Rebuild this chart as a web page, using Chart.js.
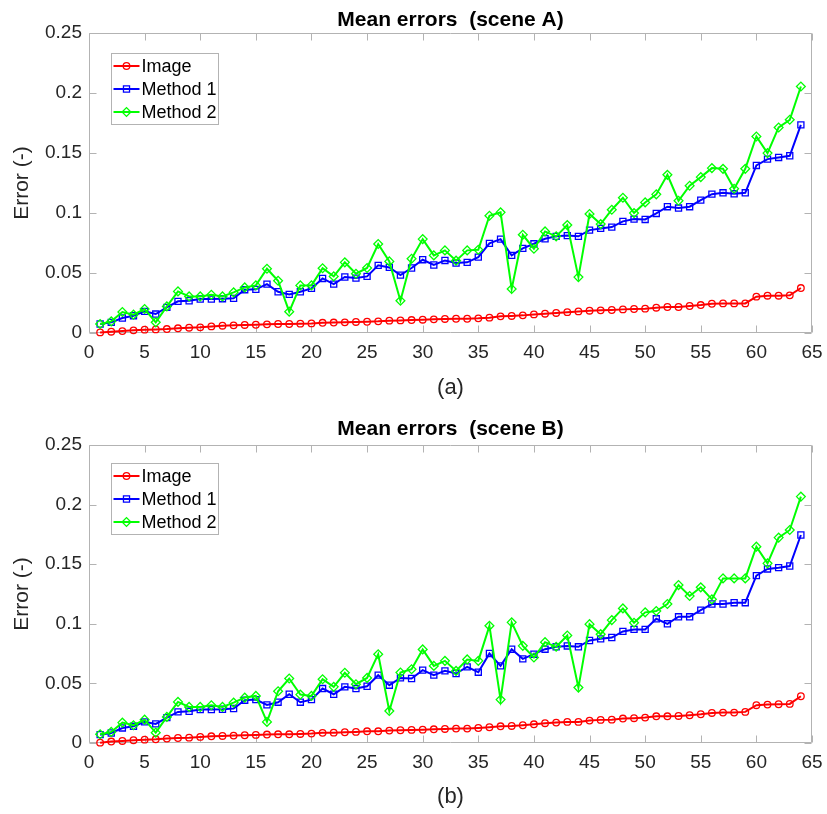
<!DOCTYPE html>
<html>
<head>
<meta charset="utf-8">
<script src="https://cdn.jsdelivr.net/npm/chart.js@4/dist/chart.umd.min.js"></script>
<style>
  html, body { margin: 0; padding: 0; background: #ffffff; }
  #wrap { position: relative; width: 827px; height: 814px; }
  canvas { position: absolute; left: 0; }
</style>
</head>
<body>
<div id="wrap">
  <canvas id="chartA" width="827" height="407" style="top:0px"></canvas>
  <canvas id="chartB" width="827" height="407" style="top:407px"></canvas>
</div>
<script>
// ---- data -------------------------------------------------------------
const pointIndex = [1,2,3,4,5,6,7,8,9,10,11,12,13,14,15,16,17,18,19,20,21,22,23,24,25,26,27,28,29,30,31,32,
  33,34,35,36,37,38,39,40,41,42,43,44,45,46,47,48,49,50,51,52,53,54,55,56,57,58,59,60,61,62,63,64];

const seriesNames = ['Image', 'Method 1', 'Method 2'];
const xTickLabels = ['0','5','10','15','20','25','30','35','40','45','50','55','60','65'];
const yTickLabels = ['0','0.05','0.1','0.15','0.2','0.25'];

const sceneA_image = [0.0005,0.0011,0.0016,0.0022,0.0028,0.0030,0.0033,0.0039,0.0044,0.0047,0.0055,0.0061,0.0064,0.0067,0.0069,0.0072,0.0075,0.0075,0.0078,0.0080,0.0085,
  0.0087,0.0089,0.0092,0.0094,0.0097,0.0103,0.0105,0.0108,0.0111,0.0114,0.0117,0.0119,0.0119,0.0122,0.0128,0.0139,0.0142,0.0147,0.0155,0.0161,0.0167,0.0174,
  0.0180,0.0186,0.0189,0.0192,0.0197,0.0200,0.0203,0.0211,0.0217,0.0217,0.0225,0.0233,0.0244,0.0247,0.0247,0.0247,0.0303,0.0311,0.0311,0.0314,0.0375];
const sceneA_method1 = [0.0075,0.0089,0.0125,0.0144,0.0180,0.0158,0.0214,0.0264,0.0269,0.0283,0.0283,0.0286,0.0289,0.0361,0.0364,0.0408,0.0344,0.0322,0.0344,0.0372,0.0455,
  0.0408,0.0467,0.0458,0.0472,0.0564,0.0547,0.0483,0.0542,0.0611,0.0567,0.0605,0.0583,0.0589,0.0633,0.0747,0.0783,0.0647,0.0706,0.0744,0.0786,0.0806,0.0812,
  0.0806,0.0858,0.0872,0.0883,0.0931,0.0950,0.0947,0.0997,0.1053,0.1042,0.1053,0.1108,0.1158,0.1169,0.1161,0.1169,0.1397,0.1450,0.1464,0.1478,0.1736];
const sceneA_method2 = [0.0075,0.0097,0.0175,0.0153,0.0200,0.0089,0.0222,0.0347,0.0305,0.0305,0.0319,0.0305,0.0339,0.0380,0.0397,0.0536,0.0436,0.0178,0.0397,0.0397,0.0540,
  0.0472,0.0589,0.0494,0.0542,0.0742,0.0597,0.0269,0.0619,0.0783,0.0647,0.0689,0.0603,0.0689,0.0694,0.0978,0.1006,0.0367,0.0819,0.0703,0.0847,0.0806,0.0900,
  0.0466,0.0992,0.0908,0.1028,0.1128,0.1000,0.1089,0.1156,0.1319,0.1103,0.1228,0.1300,0.1375,0.1369,0.1203,0.1369,0.1639,0.1500,0.1714,0.1778,0.2056];

const sceneB_image = [0.0003,0.0012,0.0017,0.0023,0.0028,0.0031,0.0037,0.0042,0.0045,0.0051,0.0056,0.0059,0.0062,0.0065,0.0068,0.0071,0.0073,0.0073,0.0076,0.0079,0.0085,
  0.0087,0.0090,0.0093,0.0098,0.0098,0.0104,0.0107,0.0110,0.0112,0.0115,0.0118,0.0121,0.0121,0.0126,0.0132,0.0140,0.0143,0.0149,0.0157,0.0166,0.0171,0.0177,
  0.0177,0.0188,0.0194,0.0196,0.0205,0.0208,0.0213,0.0224,0.0224,0.0227,0.0233,0.0241,0.0252,0.0255,0.0255,0.0261,0.0317,0.0322,0.0325,0.0328,0.0392];
const sceneB_method1 = [0.0070,0.0084,0.0126,0.0140,0.0177,0.0160,0.0213,0.0261,0.0266,0.0280,0.0280,0.0283,0.0289,0.0359,0.0364,0.0320,0.0342,0.0409,0.0342,0.0364,0.0457,
  0.0409,0.0471,0.0457,0.0476,0.0569,0.0485,0.0546,0.0541,0.0611,0.0569,0.0605,0.0583,0.0639,0.0594,0.0751,0.0647,0.0787,0.0706,0.0745,0.0787,0.0807,0.0814,
  0.0807,0.0860,0.0874,0.0885,0.0936,0.0953,0.0953,0.1042,0.1000,0.1059,0.1059,0.1115,0.1166,0.1166,0.1177,0.1177,0.1404,0.1460,0.1471,0.1485,0.1745];
const sceneB_method2 = [0.0073,0.0093,0.0171,0.0149,0.0196,0.0087,0.0219,0.0345,0.0303,0.0303,0.0317,0.0303,0.0339,0.0381,0.0395,0.0177,0.0434,0.0541,0.0406,0.0395,0.0535,
  0.0471,0.0589,0.0493,0.0546,0.0745,0.0269,0.0591,0.0619,0.0785,0.0647,0.0689,0.0605,0.0701,0.0689,0.0983,0.0364,0.1012,0.0815,0.0717,0.0846,0.0807,0.0902,
  0.0465,0.0997,0.0913,0.1031,0.1129,0.1009,0.1096,0.1107,0.1166,0.1325,0.1233,0.1306,0.1205,0.1381,0.1381,0.1381,0.1647,0.1507,0.1723,0.1787,0.2067];

// ---- styling ----------------------------------------------------------
const FONT = '"Liberation Sans", Arial, Helvetica, sans-serif';
const AXIS_COLOR = '#b3b3b3';
const TEXT_COLOR = '#262626';
const seriesColors = ['#ff0000', '#0000ff', '#00ff00'];
const seriesMarkers = ['circle', 'rect', 'rectRot'];
const markerRadius = [3.3, 4.3, 4.4];

function toPoints(values) {
  return values.map((v, i) => ({ x: pointIndex[i], y: v }));
}

// Center the chart title over the plot area rather than the whole canvas
const titleOverPlot = {
  id: 'titleOverPlot',
  afterLayout(chart) {
    const tb = chart.titleBlock;
    if (!tb) return;
    tb.left = chart.chartArea.left;
    tb.right = chart.chartArea.right;
    tb.width = tb.right - tb.left;
  }
};

// Boxed axes with inward tick marks on all four sides
const boxTicks = {
  id: 'boxTicks',
  beforeDatasetsDraw(chart) {
    const { ctx, chartArea: a } = chart;
    const xs = chart.scales.x, ys = chart.scales.y;
    const len = 7;
    const L = Math.round(a.left) + 0.5, R = Math.round(a.right) - 0.5;
    const T = Math.round(a.top) + 0.5, B = Math.round(a.bottom) - 0.5;
    ctx.save();
    ctx.strokeStyle = AXIS_COLOR;
    ctx.lineWidth = 1;
    ctx.beginPath();
    ctx.rect(L, T, R - L, B - T);
    xs.ticks.forEach(t => {
      const p = Math.round(xs.getPixelForValue(t.value)) + 0.5;
      ctx.moveTo(p, B); ctx.lineTo(p, B - len);
      ctx.moveTo(p, T); ctx.lineTo(p, T + len);
    });
    ys.ticks.forEach(t => {
      const p = Math.round(ys.getPixelForValue(t.value)) + 0.5;
      ctx.moveTo(L, p); ctx.lineTo(L + len, p);
      ctx.moveTo(R, p); ctx.lineTo(R - len, p);
    });
    ctx.stroke();
    ctx.restore();
  }
};

// Legend box drawn inside the plot area, upper left
const insetLegend = {
  id: 'insetLegend',
  afterDatasetsDraw(chart, args, opts) {
    const { ctx, chartArea: a } = chart;
    const x0 = Math.round(a.left + opts.dx) + 0.5;
    const y0 = Math.round(a.top + opts.dy) + 0.5;
    const w = 107, h = 71, row = 23;
    ctx.save();
    ctx.fillStyle = '#ffffff';
    ctx.fillRect(x0, y0, w, h);
    ctx.strokeStyle = AXIS_COLOR;
    ctx.lineWidth = 1;
    ctx.strokeRect(x0, y0, w, h);
    ctx.font = '18px ' + FONT;
    ctx.textBaseline = 'middle';
    ctx.textAlign = 'left';
    chart.data.datasets.forEach((ds, i) => {
      const cy = y0 + 12.5 + i * row;
      ctx.strokeStyle = ds.borderColor;
      ctx.lineWidth = ds.borderWidth;
      ctx.beginPath();
      ctx.moveTo(x0 + 2, cy);
      ctx.lineTo(x0 + 28, cy);
      ctx.stroke();
      ctx.lineWidth = ds.pointBorderWidth;
      ctx.fillStyle = 'rgba(0,0,0,0)';
      Chart.helpers.drawPoint(ctx, {
        pointStyle: ds.pointStyle, radius: ds.pointRadius,
        borderWidth: ds.pointBorderWidth, rotation: 0
      }, x0 + 15, cy);
      ctx.fillStyle = '#000000';
      ctx.fillText(ds.label, x0 + 30, cy + 1);
    });
    ctx.restore();
  }
};

function buildChart(id, titleText, caption, series, g) {
  return new Chart(document.getElementById(id), {
    type: 'line',
    data: {
      datasets: series.map((values, i) => ({
        label: seriesNames[i],
        data: toPoints(values),
        borderColor: seriesColors[i],
        backgroundColor: 'rgba(0,0,0,0)',
        borderWidth: 2,
        pointStyle: seriesMarkers[i],
        pointRadius: markerRadius[i],
        pointBorderWidth: 1.3,
        pointBorderColor: seriesColors[i],
        pointBackgroundColor: 'rgba(0,0,0,0)',
        tension: 0,
        clip: false,
        order: 3 - i
      }))
    },
    options: {
      responsive: false,
      animation: false,
      devicePixelRatio: 1,
      layout: { padding: { left: 0, right: 15, top: 0, bottom: 0 } },
      plugins: {
        legend: { display: false },
        tooltip: { enabled: false },
        title: {
          display: true, text: titleText, color: '#000000',
          font: { family: FONT, size: 21, weight: 'bold' },
          padding: { top: g.titleTop, bottom: g.titleBottom }
        },
        insetLegend: { dx: 22, dy: g.legendDy }
      },
      scales: {
        x: {
          type: 'linear', min: 0, max: 65,
          grid: { display: false, drawTicks: false },
          border: { display: false },
          ticks: {
            stepSize: 5, padding: g.xTickPad, color: TEXT_COLOR, maxRotation: 0, autoSkip: false,
            font: { family: FONT, size: 19 },
            callback: (v, i) => xTickLabels[i]
          },
          title: {
            display: true, text: caption, color: TEXT_COLOR,
            font: { family: FONT, size: 22 },
            padding: { top: 0, bottom: g.captionPad }
          },
          afterFit: s => { s.height = g.xHeight; s.paddingLeft = 0; s.paddingRight = 0; }
        },
        y: {
          min: 0, max: 0.25,
          grid: { display: false, drawTicks: false },
          border: { display: false },
          ticks: {
            stepSize: 0.05, padding: 7, color: TEXT_COLOR,
            font: { family: FONT, size: 19 },
            callback: (v, i) => yTickLabels[i]
          },
          title: {
            display: true, text: 'Error (-)', color: TEXT_COLOR,
            font: { family: FONT, size: 21 },
            padding: { top: 10, bottom: 0 }
          },
          afterFit: s => { s.width = 89; }
        }
      }
    },
    plugins: [titleOverPlot, boxTicks, insetLegend]
  });
}

buildChart('chartA', 'Mean errors  (scene A)', '(a)',
  [sceneA_image, sceneA_method1, sceneA_method2],
  { titleTop: 7.5, titleBottom: 0.5, xHeight: 74, xTickPad: 8, captionPad: 6, legendDy: 20 });

buildChart('chartB', 'Mean errors  (scene B)', '(b)',
  [sceneB_image, sceneB_method1, sceneB_method2],
  { titleTop: 9.5, titleBottom: 3.3, xHeight: 71, xTickPad: 8, captionPad: 4, legendDy: 18 });
</script>
</body>
</html>
